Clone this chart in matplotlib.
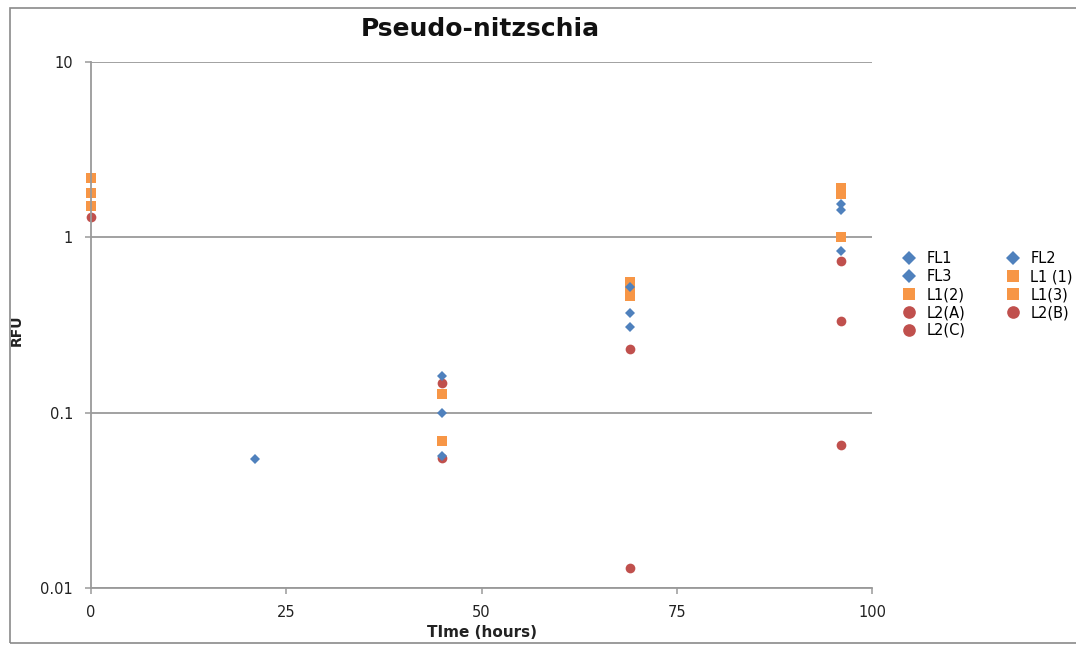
import numpy as np
import matplotlib.pyplot as plt
from matplotlib.patches import Rectangle

nan = np.nan

# sampling times (hours)
time_hours = [0, 21, 45, 69, 96]

# RFU readings per culture, NaN where nothing was measured
series_names = ['FL1', 'FL2', 'FL3', 'L1 (1)', 'L1(2)', 'L1(3)', 'L2(A)', 'L2(B)', 'L2(C)']
fl1 = [nan, 0.0543, 0.161, 0.519, 1.54]
fl2 = [nan, nan, 0.099, 0.369, 1.44]
fl3 = [nan, nan, 0.0565, 0.307, 0.832]
l1_1 = [2.17, nan, 0.127, 0.554, 1.90]
l1_2 = [1.78, nan, 0.0689, 0.50, 1.76]
l1_3 = [1.50, nan, nan, 0.461, 1.0]
l2_a = [1.30, nan, 0.147, 0.230, 0.73]
l2_b = [nan, nan, 0.055, 0.013, 0.332]
l2_c = [nan, nan, nan, nan, 0.0653]

x_ticks = [0, 25, 50, 75, 100]
y_ticks = [0.01, 0.1, 1, 10]
y_tick_labels = ['0.01', '0.1', '1', '10']

blue = '#4F81BD'
orange = '#F79646'
red = '#C0504D'

styles = {
    'FL1': (fl1, 'D', blue, 5.5, 3),
    'FL2': (fl2, 'D', blue, 5.5, 3),
    'FL3': (fl3, 'D', blue, 5.5, 3),
    'L1 (1)': (l1_1, 's', orange, 6.5, 2),
    'L1(2)': (l1_2, 's', orange, 6.5, 2),
    'L1(3)': (l1_3, 's', orange, 6.5, 2),
    'L2(A)': (l2_a, 'o', red, 7, 1),
    'L2(B)': (l2_b, 'o', red, 7, 1),
    'L2(C)': (l2_c, 'o', red, 7, 1),
}

plt.rcParams['font.family'] = ['DejaVu Sans']

fig = plt.figure(figsize=(10.76, 6.45), dpi=100)
ax = fig.add_axes([0.0846, 0.0884, 0.7258, 0.8155])

# outer chart frame
fig.patches.append(Rectangle((10 / 1076, 2 / 645), 1.2, 635 / 645, transform=fig.transFigure,
                             fill=False, edgecolor='#8a8a8a', linewidth=1.2))

handles = {}
for name in series_names:
    vals, marker, color, size, z = styles[name]
    h, = ax.plot(time_hours, vals, linestyle='none', marker=marker, color=color,
                 markersize=size, markeredgewidth=0, zorder=z, label=name, clip_on=False)
    handles[name] = h

ax.set_yscale('log')
ax.set_ylim(0.01, 10)
ax.set_xlim(0, 100)
ax.set_xticks(x_ticks)
ax.set_xticklabels([str(t) for t in x_ticks])
ax.set_yticks(y_ticks)
ax.set_yticklabels(y_tick_labels)
ax.minorticks_off()

ax.grid(axis='y', color='#9a9a9a', linewidth=1.3)
ax.set_axisbelow(True)
for side in ['top', 'right']:
    ax.spines[side].set_visible(False)
for side in ['left', 'bottom']:
    ax.spines[side].set_color('#9a9a9a')
    ax.spines[side].set_linewidth(1.3)
ax.tick_params(axis='both', colors='#9a9a9a', length=4, width=1.1, labelsize=10.5,
               labelcolor='#222222', pad=8)
ax.tick_params(axis='y', pad=9)

ax.set_xlabel('TIme (hours)', fontsize=11, fontweight='bold', color='#222222')
ax.xaxis.set_label_coords(0.5, -0.071)
ax.set_ylabel('RFU', fontsize=10, fontweight='bold', color='#222222')
ax.yaxis.set_label_coords(-0.086, 0.49)

fig.text(0.446, 0.955, 'Pseudo-nitzschia', ha='center', va='center',
         fontsize=18, fontweight='bold', color='#111111')

# two-column legend filled row by row
order = ['FL1', 'FL3', 'L1(2)', 'L2(A)', 'L2(C)', 'FL2', 'L1 (1)', 'L1(3)', 'L2(B)']
leg = ax.legend([handles[n] for n in order], order, ncol=2, frameon=False,
                loc='upper left', bbox_to_anchor=(1.02, 0.665), fontsize=10.5,
                handlelength=1.2, handletextpad=0.6, columnspacing=2.6,
                labelspacing=0.2, markerscale=1.3)

fig.savefig('out.png', dpi=100, facecolor='white')
